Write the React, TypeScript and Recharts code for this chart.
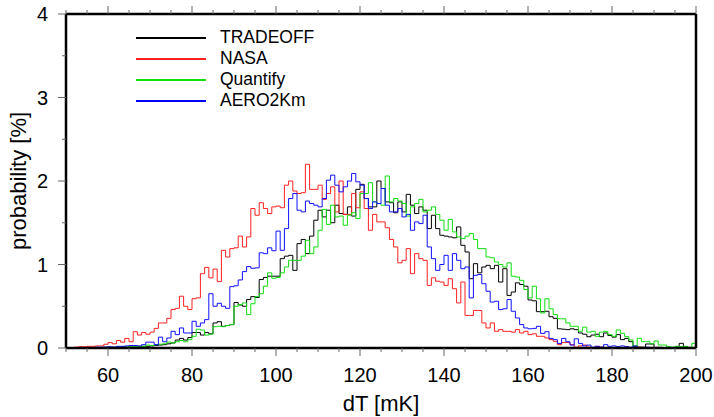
import React from 'react';
import { LineChart, Line, XAxis, YAxis } from 'recharts';

// histogram bins: left edge of each 1 mK bin, 50 .. 199
const binEdges = Array.from({ length: 150 }, (_, i) => 50 + i);

// probability [%] per bin
const tradeoff = [
  0, 0, 0, 0, 0, 0.005, 0.005, 0.005, 0.005, 0.01,
  0.01, 0.01, 0.01, 0.015, 0.01, 0.015, 0.015, 0.02, 0.02, 0.02,
  0.025, 0.03, 0.035, 0.04, 0.05, 0.06, 0.095, 0.115, 0.095, 0.125,
  0.185, 0.185, 0.155, 0.185, 0.17, 0.3, 0.315, 0.26, 0.27, 0.28,
  0.545, 0.515, 0.5, 0.58, 0.615, 0.605, 0.82, 0.845, 0.86, 0.86,
  0.86, 1.07, 1.1, 1.11, 0.93, 1.25, 1.3, 1.13, 1.34, 1.53,
  1.65, 1.57, 1.65, 1.5, 1.71, 1.61, 1.6, 1.69, 1.58, 1.9,
  1.96, 1.79, 1.69, 1.69, 2.0, 1.91, 1.75, 1.74, 1.62, 1.75,
  1.63, 1.84, 1.71, 1.61, 1.69, 1.65, 1.43, 1.59, 1.43, 1.35,
  1.34, 1.33, 1.32, 1.45, 1.23, 1.15, 0.83, 1.01, 0.9, 0.97,
  0.99, 0.95, 0.99, 0.79, 0.95, 0.63, 0.67, 0.78, 0.76, 0.74,
  0.575, 0.565, 0.435, 0.435, 0.44, 0.375, 0.355, 0.23, 0.225, 0.22,
  0.23, 0.22, 0.18, 0.165, 0.135, 0.155, 0.165, 0.135, 0.18, 0.15,
  0.13, 0.16, 0.1, 0.115, 0.076, 0.02, 0.01, 0.01, 0.048, 0.048,
  0.008, 0.008, 0.005, 0.005, 0.005, 0.016, 0.056, 0.016, 0.005, 0.005,
];

const nasa = [
  0.005, 0.005, 0.01, 0.015, 0.015, 0.02, 0.02, 0.025, 0.025, 0.045,
  0.065, 0.05, 0.09, 0.07, 0.115, 0.075, 0.195, 0.155, 0.185, 0.165,
  0.19, 0.235, 0.3, 0.3, 0.355, 0.46, 0.475, 0.62, 0.5, 0.46,
  0.59, 0.6, 0.89, 0.965, 0.84, 0.945, 0.795, 1.17, 1.09, 1.19,
  1.2, 1.34, 1.21, 1.33, 1.67, 1.59, 1.74, 1.67, 1.61, 1.69,
  1.7, 1.68, 1.95, 2.0, 1.88, 1.85, 1.86, 2.2, 1.9, 1.9,
  1.95, 1.78, 1.85, 1.93, 1.63, 2.0, 1.6, 1.6, 1.85, 1.68,
  1.87, 1.67, 1.41, 1.6, 1.51, 1.51, 1.44, 1.3, 1.21, 1.02,
  1.05, 1.19, 0.89, 1.13, 1.07, 1.05, 0.75, 0.84, 0.8, 0.79,
  0.75, 0.83, 0.71, 0.54, 0.79, 0.39, 0.39, 0.45, 0.45, 0.3,
  0.24, 0.3, 0.2, 0.22, 0.2, 0.2, 0.19, 0.22, 0.18, 0.2,
  0.16, 0.17, 0.14, 0.14, 0.12, 0.1, 0.08, 0.04, 0.065, 0.065,
  0.04, 0.01, 0.025, 0.035, 0.01, 0.005, 0.02, 0.01, 0.005, 0.005,
  0, 0.01, 0.005, 0.01, 0, 0.005, 0.01, 0, 0.005, 0,
  0, 0.005, 0, 0, 0.005, 0, 0, 0, 0, 0,
];

const quantify = [
  0, 0, 0, 0, 0, 0, 0, 0.005, 0.005, 0.005,
  0.005, 0.008, 0.01, 0.01, 0.012, 0.015, 0.02, 0.015, 0.02, 0.035,
  0.03, 0.04, 0.045, 0.05, 0.07, 0.06, 0.075, 0.09, 0.075, 0.1,
  0.14, 0.225, 0.215, 0.155, 0.165, 0.255, 0.26, 0.255, 0.27, 0.28,
  0.5, 0.52, 0.54, 0.4, 0.53, 0.615, 0.65, 0.74, 0.9, 0.835,
  0.845, 0.9, 0.97, 1.05, 1.05, 1.05, 1.1, 1.29, 1.13, 1.21,
  1.41, 1.66, 1.48, 1.71, 1.57, 1.58, 1.47, 1.59, 1.62, 1.55,
  1.85, 1.85, 1.98, 1.75, 1.73, 1.71, 2.06, 1.75, 1.79, 1.76,
  1.73, 1.58, 1.69, 1.73, 1.78, 1.63, 1.65, 1.69, 1.6, 1.53,
  1.41, 1.54, 1.39, 1.33, 1.31, 1.34, 1.37, 1.3, 1.19, 1.19,
  1.09, 1.08, 1.03, 1.0, 0.97, 1.02, 0.86, 0.85, 0.81, 0.7,
  0.6, 0.74, 0.59, 0.42, 0.59, 0.47, 0.4, 0.35, 0.35, 0.3,
  0.26, 0.26, 0.2, 0.25, 0.19, 0.2, 0.14, 0.19, 0.2, 0.16,
  0.14, 0.216, 0.176, 0.136, 0.096, 0.024, 0.116, 0.076, 0.076, 0.05,
  0.084, 0.036, 0.036, 0.016, 0.01, 0.02, 0.016, 0.02, 0.01, 0.056,
];

const aero2km = [
  0, 0, 0, 0, 0.005, 0.005, 0.005, 0.01, 0.01, 0.01,
  0.015, 0.01, 0.02, 0.02, 0.025, 0.03, 0.03, 0.025, 0.04, 0.07,
  0.07, 0.04, 0.13, 0.075, 0.12, 0.2, 0.16, 0.24, 0.18, 0.18,
  0.32, 0.26, 0.3, 0.34, 0.65, 0.5, 0.535, 0.5, 0.475, 0.735,
  0.745, 0.815, 0.915, 0.975, 0.955, 0.96, 1.14, 1.13, 1.2, 1.165,
  1.4, 1.17, 1.43, 1.79, 1.85, 1.65, 1.63, 1.76, 1.73, 1.71,
  1.69, 1.79, 2.01, 2.07, 1.95, 1.87, 1.93, 2.0, 2.09, 1.99,
  1.95, 1.79, 1.67, 1.75, 1.73, 1.91, 1.71, 1.63, 1.63, 1.67,
  1.57, 1.6, 1.41, 1.51, 1.49, 1.59, 1.21, 1.07, 0.93, 1.0,
  1.11, 0.93, 1.13, 1.05, 0.95, 0.97, 0.6, 0.87, 0.88, 0.77,
  0.68, 0.55, 0.56, 0.46, 0.47, 0.58, 0.44, 0.36, 0.28, 0.24,
  0.23, 0.235, 0.26, 0.175, 0.195, 0.115, 0.1, 0.055, 0.115, 0.075,
  0.035, 0.11, 0.055, 0.025, 0.035, 0.01, 0.02, 0.01, 0.04, 0.02,
  0.025, 0.016, 0.025, 0.016, 0.01, 0.024, 0.005, 0.005, 0.01, 0.005,
  0.005, 0, 0.005, 0, 0.005, 0, 0.005, 0, 0, 0,
];

const xTicks = Array.from({ length: 31 }, (_, i) => 50 + i * 5);
const yTicks = [0, 0.5, 1, 1.5, 2, 2.5, 3, 3.5, 4];

const series = [
  { key: 'tradeoff', name: 'TRADEOFF', color: '#000000', legend: '#000000' },
  { key: 'nasa', name: 'NASA', color: '#ff2020', legend: '#ff2020' },
  { key: 'quantify', name: 'Quantify', color: '#10e010', legend: '#10e010' },
  { key: 'aero2km', name: 'AERO2Km', color: '#1010ff', legend: '#0000ff' },
];

// stepAfter needs a closing point at the right edge of the last bin
const data = binEdges.map((dT, i) => ({
  dT,
  tradeoff: tradeoff[i],
  nasa: nasa[i],
  quantify: quantify[i],
  aero2km: aero2km[i],
}));
data.push({ ...data[data.length - 1], dT: 200 });

const FONT = '"Liberation Sans", Arial, sans-serif';
const TICK = '#666';

const BottomTick = ({ x, y, payload }: any) => {
  const major = payload.value % 20 === 0;
  return (
    <g>
      <line x1={x} x2={x} y1={y} y2={y + (major ? 8 : 4)} stroke={TICK} />
      {major && (
        <text x={x} y={y + 34} textAnchor="middle" fontSize={20} fontFamily={FONT} fill="#000">
          {payload.value}
        </text>
      )}
    </g>
  );
};

const TopTick = ({ x, y, payload }: any) => {
  const major = payload.value % 20 === 0;
  return <line x1={x} x2={x} y1={y} y2={y - (major ? 8 : 4)} stroke={TICK} />;
};

const LeftTick = ({ x, y, payload }: any) => {
  const major = Number.isInteger(payload.value);
  return (
    <g>
      <line x1={x} x2={x - (major ? 8 : 4)} y1={y} y2={y} stroke={TICK} />
      {major && (
        <text x={x - 18} y={y} dy="0.36em" textAnchor="end" fontSize={20} fontFamily={FONT} fill="#000">
          {payload.value}
        </text>
      )}
    </g>
  );
};

const RightTick = ({ x, y, payload }: any) => {
  const major = Number.isInteger(payload.value);
  return <line x1={x} x2={x + (major ? 8 : 4)} y1={y} y2={y} stroke={TICK} />;
};

const XTitle = ({ viewBox }: any) => (
  <text x={viewBox.x + viewBox.width / 2} y={viewBox.y + 63} textAnchor="middle" fontSize={22} fontFamily={FONT} fill="#000">
    dT [mK]
  </text>
);

const YTitle = ({ viewBox }: any) => {
  const cx = 18;
  const cy = viewBox.y + viewBox.height / 2;
  return (
    <text x={cx} y={cy} dy="0.36em" transform={`rotate(-90 ${cx} ${cy})`} textAnchor="middle" fontSize={22} fontFamily={FONT} fill="#000">
      probability [%]
    </text>
  );
};

const LegendBox = () => (
  <div style={{ position: 'absolute', left: 136, top: 27, fontFamily: FONT, fontSize: 17.5, color: '#000' }}>
    {series.map((s) => (
      <div key={s.key} style={{ display: 'flex', alignItems: 'center', height: 21 }}>
        <svg width={70} height={4} style={{ display: 'block' }}>
          <line x1={0} x2={70} y1={2} y2={2} stroke={s.legend} strokeWidth={2} />
        </svg>
        <span style={{ marginLeft: 14, lineHeight: '21px' }}>{s.name}</span>
      </div>
    ))}
  </div>
);

export default function App() {
  return (
    <div style={{ position: 'absolute', left: 0, top: 0, width: 714, height: 417, background: '#fff' }}>
      <LineChart width={714} height={417} data={data} margin={{ top: 0, right: 0, bottom: 0, left: 0 }}>
        <XAxis
          dataKey="dT"
          type="number"
          domain={[50, 200]}
          ticks={xTicks}
          interval={0}
          tickSize={0}
          tickMargin={0}
          tick={<BottomTick />}
          height={69}
          axisLine={{ stroke: '#000', strokeWidth: 2.5 }}
          label={<XTitle />}
        />
        <XAxis
          xAxisId="top"
          orientation="top"
          dataKey="dT"
          type="number"
          domain={[50, 200]}
          ticks={xTicks}
          interval={0}
          tickSize={0}
          tickMargin={0}
          tick={<TopTick />}
          height={14}
          axisLine={{ stroke: '#000', strokeWidth: 2.5 }}
        />
        <YAxis
          type="number"
          domain={[0, 4]}
          ticks={yTicks}
          interval={0}
          tickSize={0}
          tickMargin={0}
          tick={<LeftTick />}
          width={66}
          axisLine={{ stroke: '#000', strokeWidth: 2.5 }}
          label={<YTitle />}
        />
        <YAxis
          yAxisId="right"
          orientation="right"
          type="number"
          domain={[0, 4]}
          ticks={yTicks}
          interval={0}
          tickSize={0}
          tickMargin={0}
          tick={<RightTick />}
          width={18}
          axisLine={{ stroke: '#000', strokeWidth: 2.5 }}
        />
        {series.map((s) => (
          <Line
            key={s.key}
            type="stepAfter"
            dataKey={s.key}
            name={s.name}
            stroke={s.color}
            strokeWidth={1}
            dot={false}
            activeDot={false}
            isAnimationActive={false}
          />
        ))}
      </LineChart>
      <LegendBox />
    </div>
  );
}
